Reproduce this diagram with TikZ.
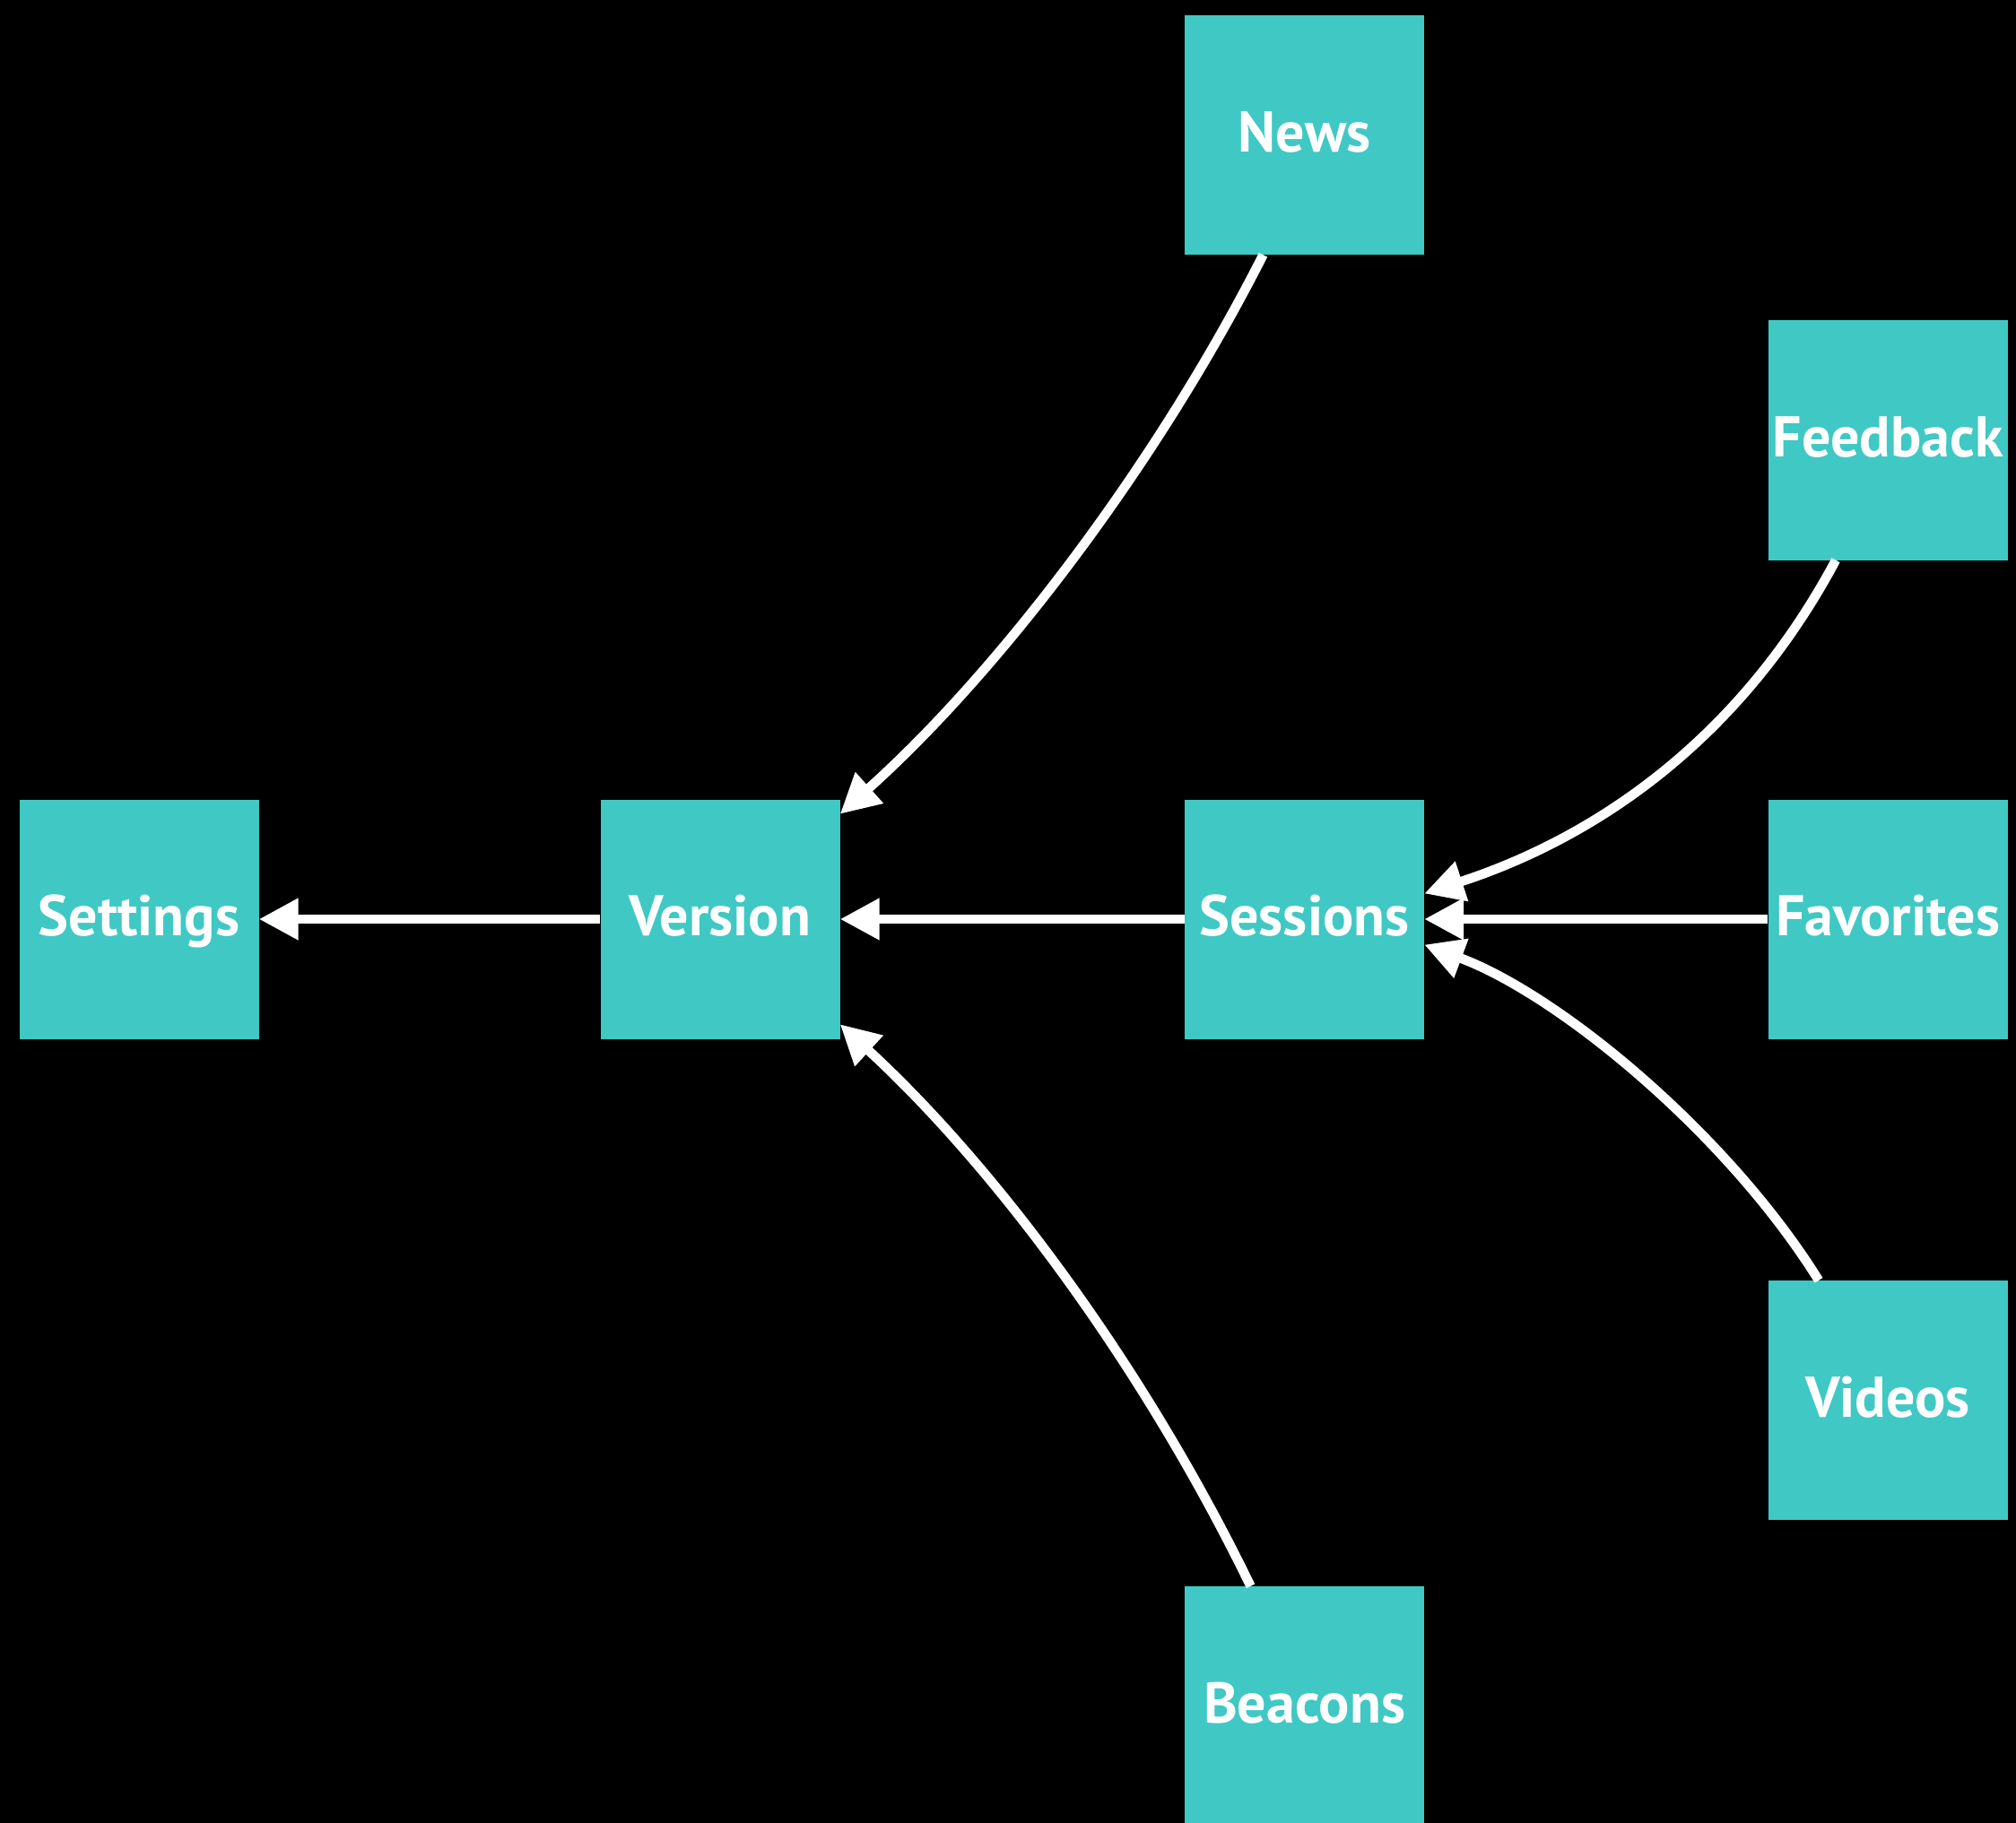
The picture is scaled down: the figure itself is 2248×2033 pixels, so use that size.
\documentclass[tikz,border=0pt]{standalone}
\usepackage{fontspec}
\setmainfont{PT Sans}
\usetikzlibrary{arrows.meta,calc}
\definecolor{boxteal}{RGB}{64,200,196}
\begin{document}
\begin{tikzpicture}[x=1pt,y=-1pt,
  box/.style={fill=boxteal, minimum width=267pt, minimum height=267pt, inner sep=0pt,
    text height=37.6pt, text depth=0pt,
    text=white, font=\fontsize{64}{70}\selectfont\bfseries},
  link/.style={draw=white, line width=10.5pt, -{Triangle[length=44pt,width=44pt]}}]
\fill[black] (0,0) rectangle (2248,2033);
\useasboundingbox (0,0) rectangle (2248,2033);
\node[box] (settings)  at (155,1025)    {Settings};
\node[box] (version)   at (803,1025)    {Version};
\node[box] (sessions)  at (1454.5,1025) {Sessions};
\node[box] (news)      at (1454.5,150.5){News};
\node[box] (feedback)  at (2105,491)    {Feedback};
\node[box] (favorites) at (2105,1025)   {Favorites};
\node[box] (videos)    at (2105,1561.5) {Videos};
\node[box] (beacons)   at (1454.5,1902.5){Beacons};
\draw[link] (version.west) -- (settings.east);
\draw[link] (sessions.west) -- (version.east);
\draw[link] (favorites.west) -- (sessions.east);
\draw[link] ($(news.south)+(-46,0)$) .. controls (1291,516) and (1116,747) .. ($(version.north east)+(0,16.5)$);
\draw[link] ($(beacons.north)+(-60,0)$) .. controls (1281,1535) and (1118,1309) .. ($(version.south east)+(0,-16.5)$);
\draw[link] ($(feedback.south)+(-58,0)$) .. controls (1946,814) and (1792,930) .. ($(sessions.east)+(0,-28.5)$);
\draw[link] ($(videos.north)+(-77,0)$) .. controls (1926,1264) and (1738,1109) .. ($(sessions.east)+(0,28.5)$);
\end{tikzpicture}
\end{document}
